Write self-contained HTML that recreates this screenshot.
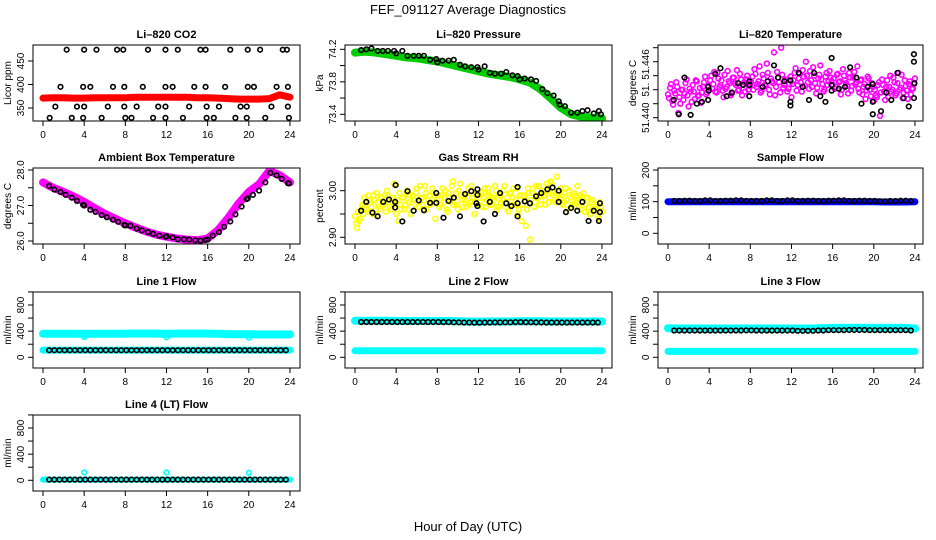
<!DOCTYPE html>
<html><head><meta charset="utf-8">
<style>
html,body{margin:0;padding:0;background:#fff;}
svg{display:block;font-family:"Liberation Sans",Arial,sans-serif;}
</style></head>
<body>
<svg id="chart" width="936" height="540" viewBox="0 0 936 540" xmlns="http://www.w3.org/2000/svg">
<rect x="0" y="0" width="936" height="540" fill="#fff"/>
<text x="468" y="14" text-anchor="middle" font-size="13">FEF_091127  Average Diagnostics</text>
<text x="468" y="531" text-anchor="middle" font-size="13">Hour of Day (UTC)</text>
</svg>
<script>
// ---------- data ----------
const hours = [0,1,2,3,4,5,6,7,8,9,10,11,12,13,14,15,16,17,18,19,20,21,22,23,24];
const xTicks = [0,4,8,12,16,20,24];

// CO2
const co2Red = [371,372,372,371,371,372,372,372,372,373,373,373,373,373,373,372,372,371,370,369,369,369,370,378,373];
const co2BlkT = [2.3,4.0,5.2,7.2,7.8,10.2,11.9,13.1,15.3,15.8,18.2,19.9,21.1,23.3,23.7, 1.7,3.9,4.6,6.8,7.9,9.7,11.9,12.6,14.7,15.8,17.7,19.9,20.5,22.7,23.8, 1.2,3.3,4.0,6.3,7.9,9.1,11.2,11.9,14.2,15.9,17.1,19.2,19.8,22.2,23.8, 0.65,2.8,3.9,5.7,8.0,8.6,10.7,11.9,13.6,15.9,16.6,18.7,19.8,21.6,23.9];
const co2BlkV = [474,474,474,474,474,474,474,474,474,474,474,474,474,474,474, 395,395,395,395,395,395,395,395,395,395,395,395,395,395,395, 353,353,353,353,353,353,353,353,353,353,353,353,353,353,353, 329,329,329,329,329,329,329,329,329,329,329,329,329,329,329];

// Pressure
const presGreen = [74.16,74.17,74.16,74.14,74.12,74.10,74.09,74.07,74.05,74.02,73.99,73.96,73.93,73.90,73.88,73.86,73.83,73.79,73.71,73.60,73.48,73.40,73.37,73.36,73.35];
const presBlkT = [0.6,1.1,1.6,2.2,2.7,3.2,3.8,4.0,4.6,5.1,5.7,6.2,6.7,7.3,7.9,8.0,8.5,9.1,9.6,10.2,10.7,11.3,11.9,12.0,12.6,13.1,13.6,14.2,14.7,15.3,15.8,16.0,16.5,17.1,17.6,18.2,18.7,19.3,19.8,19.9,20.4,21.0,21.6,22.1,22.6,23.2,23.7,23.9];
const presBlkV = [74.19,74.2,74.21,74.18,74.18,74.18,74.18,74.15,74.18,74.12,74.12,74.12,74.12,74.07,74.08,74.04,74.06,74.06,74.07,74.01,73.99,73.98,73.98,73.95,73.99,73.91,73.9,73.9,73.92,73.88,73.87,73.83,73.84,73.83,73.81,73.71,73.66,73.63,73.56,73.52,73.5,73.42,73.42,73.44,73.45,73.41,73.44,73.4];

// Li-820 temperature (magenta every 0.2 h, plus offset set at +0.1 h)
const tempMag = [51.44250,51.44320,51.44180,51.44290,51.44380,51.44050,51.44150,51.44300,51.44260,51.44410,51.44120,51.44280,51.44350,51.44200,51.44390,51.44240,51.44160,51.44330,51.44440,51.44270,51.44300,
51.44450,51.44360,51.44280,51.44480,51.44330,51.44400,51.44220,51.44310,51.44500,51.44370,51.44260,51.44430,51.44350,51.44290,51.44470,51.44240,51.44380,51.44410,51.44300,51.44360,
51.44440,51.44520,51.44330,51.44390,51.44270,51.44460,51.44350,51.44580,51.44300,51.44420,51.44370,51.44240,51.44490,51.44380,51.44750,51.44320,51.44410,51.44280,51.44360,51.44220,
51.44400,51.44530,51.44350,51.44470,51.44280,51.44440,51.44600,51.44380,51.44500,51.44330,51.44450,51.44260,51.44420,51.44560,51.44360,51.44300,51.44480,51.44390,51.44430,51.44350,
51.44310,51.44460,51.44380,51.44250,51.44520,51.44400,51.44340,51.44480,51.44290,51.44430,51.44360,51.44550,51.44270,51.44410,51.44330,51.44200,51.44440,51.44300,51.44370,51.44180,
51.44240,51.44350,51.44020,51.44410,51.44280,51.44330,51.44220,51.44450,51.44300,51.44380,51.44260,51.44480,51.44320,51.44210,51.44400,51.44290,51.44360,51.44250,51.44310,51.44420];
const tempMag2 = [51.44210,51.44360,51.44140,51.44260,51.44330,51.44220,51.44300,51.44190,51.44370,51.44240,51.44310,51.44170,51.44280,51.44400,51.44230,51.44320,51.44270,51.44380,51.44250,51.44340,
51.44400,51.44310,51.44490,51.44270,51.44420,51.44350,51.44290,51.44460,51.44330,51.44390,51.44240,51.44430,51.44370,51.44510,51.44300,51.44410,51.44360,51.44280,51.44450,51.44340,
51.44380,51.44300,51.44470,51.44360,51.44550,51.44290,51.44420,51.44340,51.44480,51.44250,51.44390,51.44700,51.44330,51.44430,51.44270,51.44460,51.44350,51.44400,51.44310,51.44440,
51.44360,51.44480,51.44290,51.44420,51.44380,51.44510,51.44340,51.44450,51.44310,51.44400,51.44540,51.44370,51.44320,51.44460,51.44410,51.44280,51.44440,51.44350,51.44500,51.44390,
51.44420,51.44330,51.44470,51.44390,51.44300,51.44450,51.44370,51.44260,51.44430,51.44340,51.44490,51.44380,51.44310,51.44400,51.44250,51.44360,51.44290,51.44420,51.44230,51.44330,
51.44300,51.44220,51.44380,51.44270,51.44350,51.44190,51.44400,51.44330,51.44280,51.44430,51.44240,51.44370,51.44300,51.44460,51.44270,51.44340,51.44200,51.44390,51.44310,51.44360];
const tempBlkT = [0.56,1.05,1.6,2.2,2.8,3.3,3.9,3.9,3.96,4.6,5.1,5.7,6.2,6.8,7.3,7.9,7.9,7.9,9.2,9.7,10.3,10.7,11.3,11.9,11.9,11.9,12.7,13.1,13.7,14.2,14.8,15.3,15.9,15.9,15.9,16.6,17.2,17.7,18.3,18.8,19.4,19.9,19.9,19.9,20.7,21.2,21.7,22.3,22.9,23.4,23.9,23.9,23.95,23.9];
const tempBlkV = [51.44190,51.44037,51.44430,51.44030,51.44150,51.44170,51.44190,51.44330,51.44290,51.44470,51.44530,51.44230,51.44270,51.44370,51.44350,51.44350,51.44390,51.44230,51.44330,51.44390,51.44560,51.44430,51.44390,51.44400,51.44130,51.44170,51.44480,51.44330,51.44190,51.44480,51.44230,51.44170,51.44640,51.44350,51.44290,51.44310,51.44330,51.44540,51.44430,51.44150,51.44330,51.44037,51.44170,51.44360,51.44070,51.44270,51.44190,51.44480,51.44210,51.44120,51.44680,51.44600,51.44370,51.44210];

// Ambient box temperature
const ambMag = [27.65,27.5,27.38,27.25,27.1,26.93,26.77,26.63,26.5,26.38,26.27,26.18,26.12,26.07,26.04,26.02,26.07,26.3,26.65,27.05,27.38,27.6,27.98,27.85,27.65];
const ambBlkT = [0.6,1.1,1.7,2.2,2.8,3.3,3.9,4.0,4.6,5.1,5.7,6.2,6.8,7.3,7.9,8.0,8.5,9.1,9.6,10.2,10.7,11.3,11.9,12.0,12.6,13.1,13.7,14.2,14.8,15.3,15.8,16.0,16.5,17.1,17.6,18.2,18.7,19.3,19.8,19.9,20.4,21.0,21.6,22.1,22.7,23.2,23.8,23.9];
const ambBlkV = [27.55,27.45,27.38,27.3,27.22,27.13,27.02,27.0,26.88,26.82,26.73,26.67,26.6,26.54,26.45,26.44,26.43,26.35,26.3,26.25,26.2,26.15,26.12,26.13,26.1,26.05,26.05,26.04,26.02,26.01,26.03,26.04,26.15,26.25,26.4,26.55,26.75,26.97,27.18,27.2,27.3,27.42,27.65,27.92,27.85,27.75,27.63,27.62];

// Gas stream RH (yellow every 0.2 h, plus offset set at +0.1 h)
const rhYel = [2.945,2.92,2.935,2.96,2.95,2.97,2.955,2.98,2.965,2.99,2.95,2.975,2.96,2.985,2.97,2.955,2.99,2.965,2.98,3.015,2.95,
2.935,2.97,2.985,2.96,2.995,2.975,2.95,2.99,2.98,3.005,2.965,2.985,2.97,3.01,2.96,2.99,2.975,2.995,2.94,2.98,
2.965,2.99,2.975,3.0,2.955,2.985,3.01,2.97,2.995,2.96,3.015,2.98,2.99,2.965,3.005,2.975,2.985,2.95,2.995,2.97,
2.99,2.965,3.005,2.98,2.995,2.97,2.985,3.01,2.96,2.99,2.975,3.0,2.965,2.985,2.995,2.97,3.005,2.98,2.95,2.99,
2.935,2.99,2.925,3.005,2.895,2.995,2.965,3.01,2.985,2.97,3.0,2.99,3.015,2.975,3.02,2.995,2.98,3.03,2.99,3.005,
2.97,2.995,2.98,3.0,2.965,2.99,2.975,3.01,2.985,2.96,2.995,2.97,2.985,2.95,2.975,2.96,2.965,2.945,2.975,2.955];
const rhYel2 = [2.93,2.955,2.94,2.97,2.985,2.96,2.99,2.975,2.95,2.98,2.995,2.965,2.985,2.97,2.99,3.0,2.975,2.96,2.985,2.97,
2.98,2.995,2.96,2.985,2.97,3.0,2.99,2.965,2.98,2.995,2.975,3.01,2.985,2.96,2.995,2.98,2.97,3.005,2.99,2.975,
2.99,2.97,3.005,2.985,2.96,2.995,2.975,3.02,2.985,2.97,3.0,2.99,2.965,2.98,2.995,2.97,3.01,2.985,2.975,2.99,
2.975,2.995,2.985,2.965,3.005,2.99,2.97,2.98,3.0,2.965,2.99,2.98,3.01,2.975,2.955,2.995,2.985,2.97,3.005,2.96,
2.99,2.97,2.985,2.96,2.995,2.98,3.005,2.975,2.99,3.01,2.98,2.995,2.97,3.0,2.985,3.015,2.99,2.975,3.0,2.985,
2.99,2.975,3.005,2.96,2.985,2.97,2.995,2.98,2.965,2.99,2.975,2.955,2.985,2.965,2.95,2.98,2.96,2.97,2.94,2.965];
const rhBlkT = [0.6,1.1,1.7,2.2,2.75,3.3,3.9,3.9,3.95,4.6,5.1,5.7,6.2,6.7,7.3,7.9,7.9,8.6,9.1,9.6,10.2,10.7,11.3,11.8,11.9,11.9,11.9,12.5,13.1,13.6,14.1,14.7,15.2,15.8,15.8,15.8,16.5,17.0,17.6,18.1,18.7,19.2,19.8,19.8,20.5,21.0,21.6,22.1,22.7,23.2,23.7,23.8,23.8];
const rhBlkV = [2.957,2.976,2.953,2.945,2.976,2.981,2.976,2.964,3.012,2.934,2.999,2.957,2.979,2.958,2.974,2.974,2.995,2.942,2.978,2.985,2.945,2.993,2.999,2.973,2.991,2.967,3.003,2.934,2.976,2.95,2.995,2.973,2.967,2.973,2.945,3.008,2.977,2.973,2.988,2.995,3.003,3.007,3.0,2.976,2.954,2.963,2.957,2.976,2.935,2.957,2.935,2.973,2.954];

// Flows (hourly)
const sampleBlue = [100,100,100,100,100,100,100,100,100,100,100,100,100,100,100,100,100,100,100,100,100,99,99,99,100];
const sampleBlk  = [101,102,103,102,104,102,103,104,102,102,104,102,104,102,103,102,103,104,102,103,102,101,102,103,102];
const line1CyanHi = [360,360,360,360,358,360,360,360,362,362,362,362,360,362,362,362,362,360,355,352,352,350,350,350,350];
const line1CyanLo = [110,110,110,110,110,110,110,110,110,110,110,110,110,110,110,110,110,110,110,110,110,110,110,110,110];
const line1Blk   = [108,108,108,108,108,108,108,108,108,108,108,108,108,108,108,108,108,108,108,108,108,108,108,108,108];
const line1DipT = [4,12,20];
const line1DipV = [310,305,300];
const line2CyanHi = [560,560,558,558,556,556,556,556,555,555,552,548,545,548,548,548,552,550,550,548,548,548,548,548,548];
const line2CyanLo = [100,100,100,100,100,100,100,100,100,100,100,100,100,100,100,100,100,100,100,100,100,100,100,100,100];
const line2Blk   = [540,540,540,540,540,540,540,540,540,538,535,532,530,532,534,535,538,536,534,532,532,532,532,532,532];
const line3CyanHi = [445,440,440,440,440,440,440,440,440,440,440,440,440,440,440,445,450,450,450,450,450,450,450,450,440];
const line3CyanLo = [90,90,90,90,90,90,90,90,90,90,90,90,90,90,90,90,90,90,90,90,90,90,90,90,90];
const line3Blk   = [410,410,410,410,410,410,410,410,412,410,410,410,410,405,405,410,415,415,418,418,415,415,415,415,410];
const line4Blk   = [10,10,10,10,10,10,10,10,10,10,10,10,10,10,10,10,10,10,10,10,10,10,10,10,10];
const line4SpikeT = [4,12,20];
const line4SpikeV = [120,120,115];

// ---------- drawing ----------
const svg = document.getElementById('chart');
const NS = 'http://www.w3.org/2000/svg';
const COLX = [33,345,658];
const ROWY = [45,168,292,415];
const BOXH = 76;
function mk(tag, attrs, parent){
  const e = document.createElementNS(NS, tag);
  for (const k in attrs) e.setAttribute(k, attrs[k]);
  (parent||svg).appendChild(e);
  return e;
}
function makePanel(cfg){
  const g = mk('g', {});
  
  
  const left = COLX[cfg.col], top = ROWY[cfg.row], w = cfg.col===2?265:267;
  const xs = t => left + 10 + t * 10.29;
  const py0 = top + cfg.r0[1], py1 = top + cfg.r1[1];
  const ys = v => py0 + (v - cfg.r0[0]) * (py1 - py0) / (cfg.r1[0] - cfg.r0[0]);
  const clip = 'clip-' + cfg.name;
  const cp = mk('clipPath', {id: clip}, g);
  mk('rect', {x:left, y:top, width:w, height:BOXH}, cp);
  const plot = mk('g', {'clip-path':'url(#'+clip+')'}, g);
  
  
  const tt = mk('text', {x:left+w/2, y:top-7, 'text-anchor':'middle', 'font-size':11, 'font-weight':'bold'}, g);
  tt.textContent = cfg.title;
  
  
  const box = mk('rect', {x:left, y:top, width:w, height:BOXH, fill:'none', stroke:'#000', 'stroke-width':1}, g);
  
  
  const by = top + BOXH;
  mk('line', {x1:xs(0), x2:xs(24), y1:by, y2:by, stroke:'#000'}, g);
  xTicks.forEach(t => {
    mk('line', {x1:xs(t), x2:xs(t), y1:by, y2:by+5, stroke:'#000'}, g);
    const lb = mk('text', {x:xs(t), y:by+17, 'text-anchor':'middle', 'font-size':10}, g);
    lb.textContent = t;
    
    
  });
  const yt = cfg.yTicks;
  mk('line', {x1:left, x2:left, y1:ys(yt[0]), y2:ys(yt[yt.length-1]), stroke:'#000'}, g);
  yt.forEach(v => mk('line', {x1:left-5, x2:left, y1:ys(v), y2:ys(v), stroke:'#000'}, g));
  cfg.yLabels.forEach((lab, i) => {
    const yy = ys(cfg.yLabelVals[i]);
    const lb = mk('text', {x:left-9, y:yy, 'text-anchor':'middle', 'font-size':10, transform:'rotate(-90 '+(left-9)+' '+yy+')'}, g);
    lb.textContent = lab;
    
    
  });
  const ym = top + BOXH/2;
  const yl = mk('text', {x:left-22, y:ym, 'text-anchor':'middle', 'font-size':10, transform:'rotate(-90 '+(left-22)+' '+ym+')'}, g);
  yl.textContent = cfg.yTitle;
  
  
  return {plot, xs, ys};
}
function band(p, vals, color, sw, name){
  const pts = hours.map((t,i) => p.xs(t).toFixed(1)+','+p.ys(vals[i]).toFixed(1)).join(' ');
  const e = mk('polyline', {points:pts, fill:'none', stroke:color, 'stroke-width':sw, 'stroke-linejoin':'round', 'stroke-linecap':'round'}, p.plot);
  
  
}
function pts(p, ts, vs, color, name){
  ts.forEach((t,i) => {
    const c = mk('circle', {cx:p.xs(t), cy:p.ys(vs[i]), r:2.3, fill:'none', stroke:color, 'stroke-width':1.6}, p.plot);
    
    
  });
}
function stepPts(p, vals, start, step, color, name){
  vals.forEach((v,i) => {
    const c = mk('circle', {cx:p.xs(start + i*step), cy:p.ys(v), r:2.4, fill:'none', stroke:color, 'stroke-width':1.6}, p.plot);
    
    
  });
}
function hourlyHalf(p, vals, color, name){
  for (let k = 1; k <= 47; k++){
    const t = k*0.5 + 0.1;
    const c = mk('circle', {cx:p.xs(t), cy:p.ys(vals[Math.round(t)]), r:2.3, fill:'none', stroke:color, 'stroke-width':1.6}, p.plot);
    
    
  }
}
const flowTicks = [0,200,400,600,800,1000];
const flowCfg = (name,title,col,row) => ({name,title,col,row,r0:[0,65.3],r1:[800,13],yTicks:flowTicks,yLabels:['0','400','800'],yLabelVals:[0,400,800],yTitle:'ml/min'});

let p = makePanel({name:'panel-co2',title:'Li\u2013820 CO2',col:0,row:0,r0:[350,63],r1:[450,16],yTicks:[350,400,450],yLabels:['350','400','450'],yLabelVals:[350,400,450],yTitle:'Licor ppm'});
band(p, co2Red, '#ff0000', 7, 'co2-series');
pts(p, co2BlkT, co2BlkV, '#000', 'co2-average-point');

p = makePanel({name:'panel-pressure',title:'Li\u2013820 Pressure',col:1,row:0,r0:[73.4,69.3],r1:[74.2,4.3],yTicks:[73.4,73.6,73.8,74.0,74.2],yLabels:['73.4','73.8','74.2'],yLabelVals:[73.4,73.8,74.2],yTitle:'kPa'});
band(p, presGreen, '#00cc00', 8, 'pressure-series');
pts(p, presBlkT, presBlkV, '#000', 'pressure-average-point');

p = makePanel({name:'panel-li820-temp',title:'Li\u2013820 Temperature',col:2,row:0,r0:[51.440,72.7],r1:[51.446,16.7],yTicks:[51.4400,51.4415,51.4430,51.4445,51.4460,51.4475],yLabels:['51.440','51.','51.446'],yLabelVals:[51.4400,51.4430,51.4457],yTitle:'degrees C'});
stepPts(p, tempMag, 0, 0.2, '#ff00ff', 'temperature-point');
stepPts(p, tempMag2, 0.1, 0.2, '#ff00ff', 'temperature-point');
pts(p, tempBlkT, tempBlkV, '#000', 'temperature-average-point');

p = makePanel({name:'panel-ambient-temp',title:'Ambient Box Temperature',col:0,row:1,r0:[26,73],r1:[28,2],yTicks:[26,26.5,27,27.5,28],yLabels:['26.0','27.0','28.0'],yLabelVals:[26,27,28],yTitle:'degrees C'});
band(p, ambMag, '#ff00ff', 8, 'ambient-series');
pts(p, ambBlkT, ambBlkV, '#000', 'ambient-average-point');

p = makePanel({name:'panel-gas-rh',title:'Gas Stream RH',col:1,row:1,r0:[2.90,69.3],r1:[3.00,22.7],yTicks:[2.90,2.95,3.00],yLabels:['2.90','3.00'],yLabelVals:[2.90,3.00],yTitle:'percent'});
stepPts(p, rhYel, 0, 0.2, '#ffff00', 'rh-point');
stepPts(p, rhYel2, 0.1, 0.2, '#ffff00', 'rh-point');
pts(p, rhBlkT, rhBlkV, '#000', 'rh-average-point');

p = makePanel({name:'panel-sample-flow',title:'Sample Flow',col:2,row:1,r0:[0,65.3],r1:[200,2],yTicks:[0,50,100,150,200],yLabels:['0','100','200'],yLabelVals:[0,100,200],yTitle:'ml/min'});
band(p, sampleBlue, '#0000ff', 7, 'sample-flow-series');
hourlyHalf(p, sampleBlk, '#000', 'sample-flow-average-point');

p = makePanel(flowCfg('panel-line1-flow','Line 1 Flow',0,2));
band(p, line1CyanHi, '#00ffff', 8, 'line1-upper-series');
band(p, line1CyanLo, '#00ffff', 7, 'line1-lower-series');
pts(p, line1DipT, line1DipV, '#00ffff', 'line1-dip-point');
hourlyHalf(p, line1Blk, '#000', 'line1-average-point');

p = makePanel(flowCfg('panel-line2-flow','Line 2 Flow',1,2));
band(p, line2CyanHi, '#00ffff', 8, 'line2-upper-series');
band(p, line2CyanLo, '#00ffff', 7, 'line2-lower-series');
hourlyHalf(p, line2Blk, '#000', 'line2-average-point');

p = makePanel(flowCfg('panel-line3-flow','Line 3 Flow',2,2));
band(p, line3CyanHi, '#00ffff', 8, 'line3-upper-series');
band(p, line3CyanLo, '#00ffff', 7, 'line3-lower-series');
hourlyHalf(p, line3Blk, '#000', 'line3-average-point');

p = makePanel(flowCfg('panel-line4-flow','Line 4 (LT) Flow',0,3));
band(p, line4Blk, '#00ffff', 6, 'line4-series');
pts(p, line4SpikeT, line4SpikeV, '#00ffff', 'line4-spike-point');
hourlyHalf(p, line4Blk, '#000', 'line4-average-point');
</script>
</body></html>
